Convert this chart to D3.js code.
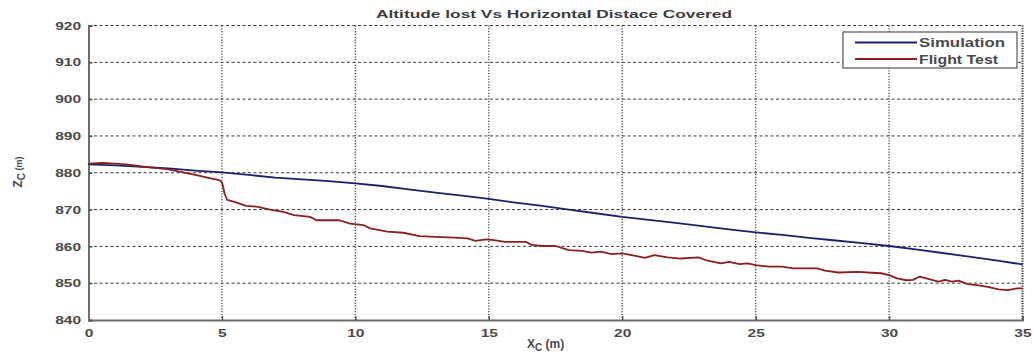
<!DOCTYPE html>
<html>
<head>
<meta charset="utf-8">
<script src="https://cdn.jsdelivr.net/npm/d3@7/dist/d3.min.js"></script>
<style>
  html, body { margin: 0; padding: 0; background: #fff; }
  svg { display: block; }
  text { font-family: "Liberation Sans", Arial, sans-serif; }
</style>
</head>
<body>
<svg id="chart" width="1034" height="356"></svg>
<script>
// Distance along track (m) and altitude (m) for both runs
const simX = [0,1,2,3,4,5,6,7,8,9,10,11,12,13,14,15,16,17,18,19,20,21,22,23,24,25,26,27,28,29,30,31,32,33,34,35];
const simZ = [882.3,882.0,881.6,881.2,880.6,880.1,879.4,878.7,878.2,877.7,877.1,876.4,875.5,874.6,873.8,872.9,871.9,871.0,870.0,869.0,868.0,867.2,866.4,865.5,864.6,863.8,863.1,862.3,861.6,860.9,860.1,859.2,858.2,857.2,856.2,855.1];

const flightX = [0,0.5,1.0,1.5,2.0,2.5,3.0,3.5,4.0,4.5,4.9,5.0,5.05,5.1,5.2,5.5,5.9,6.3,6.8,7.3,7.7,8.3,8.55,9.4,9.8,10.3,10.55,11.2,11.8,12.4,13.0,13.7,14.2,14.5,14.9,15.2,15.6,16.4,16.6,17.0,17.5,18.0,18.5,18.85,19.2,19.6,20.0,20.5,20.85,21.2,21.7,22.2,22.85,23.2,23.7,24.0,24.4,24.7,25.0,25.5,26.0,26.4,27.3,27.6,28.1,28.85,29.2,29.7,30.0,30.3,30.65,30.9,31.15,31.5,31.85,32.1,32.35,32.6,32.95,33.3,33.7,34.1,34.45,34.8,35.0];
const flightZ = [882.5,882.7,882.5,882.2,881.7,881.3,880.9,880.2,879.4,878.6,878.0,877.4,876.0,874.3,872.6,872.0,871.0,870.8,870.0,869.4,868.5,868.0,867.1,867.1,866.2,865.8,864.9,864.0,863.7,862.8,862.6,862.4,862.2,861.5,861.9,861.7,861.2,861.2,860.4,860.1,860.1,859.0,858.8,858.3,858.6,857.9,858.1,857.4,856.9,857.6,857.0,856.7,857.0,856.1,855.4,855.8,855.2,855.4,854.9,854.5,854.5,854.0,854.0,853.4,852.9,853.1,852.9,852.7,852.2,851.3,850.8,850.9,851.8,851.1,850.4,850.9,850.4,850.7,849.75,849.5,849.0,848.3,848.1,848.6,848.6];

const xTicks = [0,5,10,15,20,25,30,35];
const yTicks = [840,850,860,870,880,890,900,910,920];
const seriesNames = ["Simulation", "Flight Test"];
const seriesColors = ["#1f1f6e", "#8c1f22"];
const titleText = "Altitude lost Vs Horizontal Distace Covered";

const svg = d3.select("#chart");
const plotL = 88.5, plotR = 1022.5, plotT = 25.5, plotB = 320;

const x = d3.scaleLinear().domain([0, 35]).range([plotL, plotR]);
const y = d3.scaleLinear().domain([840, 920]).range([plotB, plotT]);

// grid: dashed horizontals, dotted verticals
const grid = svg.append("g");
grid.selectAll("line.h").data(yTicks.filter(v => v > 840)).join("line")
  .attr("class", "h")
  .attr("x1", plotL).attr("x2", plotR)
  .attr("y1", d => y(d)).attr("y2", d => y(d))
  .attr("stroke", "#3a3a3a").attr("stroke-width", 1)
  .attr("stroke-dasharray", "3,2.5");
grid.selectAll("line.v").data(xTicks.filter(v => v > 0 && v < 35)).join("line")
  .attr("class", "v")
  .attr("x1", d => x(d)).attr("x2", d => x(d))
  .attr("y1", plotT).attr("y2", plotB)
  .attr("stroke", "#555").attr("stroke-width", 1.4)
  .attr("stroke-dasharray", "1.2,1.6");
// right edge of the box
grid.append("line")
  .attr("x1", plotR).attr("x2", plotR).attr("y1", plotT).attr("y2", plotB)
  .attr("stroke", "#333").attr("stroke-width", 2)
  .attr("stroke-dasharray", "1.2,1.3");

// axes
const xAxis = d3.axisBottom(x).tickValues(xTicks).tickSize(-4).tickPadding(8).tickFormat(d3.format("d"));
const yAxis = d3.axisLeft(y).tickValues(yTicks).tickSize(-4).tickPadding(8).tickFormat(d3.format("d"));

const gx = svg.append("g").attr("transform", `translate(0,${plotB})`).call(xAxis);
const gy = svg.append("g").attr("transform", `translate(${plotL},0)`).call(yAxis);

[gx, gy].forEach(g => {
  g.select(".domain").attr("stroke", "#6e6e6e").attr("stroke-width", 2);
  g.selectAll(".tick line").attr("stroke", "#555").attr("stroke-width", 1.5);
  g.selectAll(".tick text")
    .attr("fill", "#4a4a4a")
    .attr("font-size", 11.5)
    .attr("font-family", "Liberation Sans, Arial, sans-serif")
    .attr("font-weight", "bold");
});
gx.selectAll(".tick text").attr("transform", "scale(1.35,1)").attr("y", 9);
gy.selectAll(".tick text").attr("transform", "scale(1.35,1)").attr("x", -5.5);

// series lines
const line = d3.line().x(d => x(d[0])).y(d => y(d[1]));
const simData = simX.map((v, i) => [v, simZ[i]]);
const flightData = flightX.map((v, i) => [v, flightZ[i]]);

svg.append("path").datum(simData)
  .attr("d", line).attr("fill", "none")
  .attr("stroke", seriesColors[0]).attr("stroke-width", 1.8);
svg.append("path").datum(flightData)
  .attr("d", line).attr("fill", "none")
  .attr("stroke", seriesColors[1]).attr("stroke-width", 1.8)
  .attr("stroke-linejoin", "round");

// title
svg.append("text")
  .attr("x", 554).attr("y", 18)
  .attr("text-anchor", "middle")
  .attr("font-size", 11).attr("font-weight", "bold")
  .attr("fill", "#3c3c3c")
  .attr("textLength", 356).attr("lengthAdjust", "spacingAndGlyphs")
  .text(titleText);

// axis labels
const xl = svg.append("text")
  .attr("x", 527).attr("y", 348)
  .attr("font-size", 12).attr("font-weight", "bold").attr("fill", "#4a4a4a");
xl.append("tspan").text("X");
xl.append("tspan").attr("dy", 3).attr("font-size", 10).text("C");
xl.append("tspan").attr("dy", -3).text(" (m)");

const yl = svg.append("text")
  .attr("transform", "translate(22,172) rotate(-90)")
  .attr("text-anchor", "middle")
  .attr("font-size", 12).attr("font-weight", "bold").attr("fill", "#4a4a4a");
yl.append("tspan").text("Z");
yl.append("tspan").attr("dy", 3).attr("font-size", 10).text("C");
yl.append("tspan").attr("dy", -3).attr("font-size", 9).text(" (m)");

// legend
const lg = svg.append("g");
lg.append("rect")
  .attr("x", 843).attr("y", 32).attr("width", 174).attr("height", 36)
  .attr("fill", "#fff").attr("stroke", "#555").attr("stroke-width", 1.2);
seriesNames.forEach((name, i) => {
  const yy = 42.5 + i * 16.5;
  lg.append("line")
    .attr("x1", 855).attr("x2", 917).attr("y1", yy).attr("y2", yy)
    .attr("stroke", seriesColors[i]).attr("stroke-width", 1.8);
  lg.append("text")
    .attr("x", 919).attr("y", yy + 4.5)
    .attr("font-size", 12).attr("font-weight", "bold").attr("fill", "#4a4a4a")
    .attr("textLength", i === 0 ? 86 : 79).attr("lengthAdjust", "spacingAndGlyphs")
    .text(name);
});
</script>
</body>
</html>
